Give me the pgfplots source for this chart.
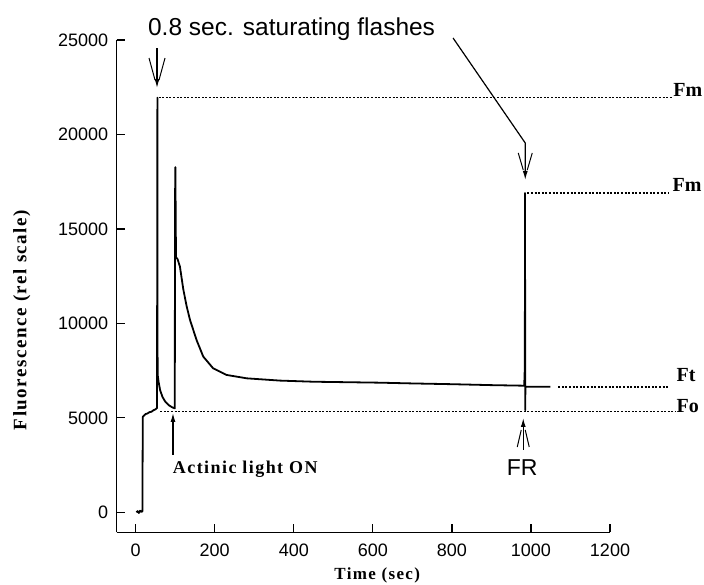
\documentclass[border=0pt]{standalone}
\usepackage{fontspec}
\setmainfont{Liberation Serif}
\newfontfamily\sansf{Liberation Sans}
\newfontfamily\labf[LetterSpace=8]{Liberation Serif}
\usepackage{pgfplots}
\pgfplotsset{compat=1.18}
\usetikzlibrary{arrows.meta}

\begin{document}
\begin{tikzpicture}
\useasboundingbox (0,0) rectangle (704pt,585pt);
\begin{axis}[
  at={(116.7pt,52.7pt)}, anchor=south west,
  width=493.3pt, height=492.3pt, scale only axis,
  xmin=-48, xmax=1200, ymin=-1060, ymax=25000,
  axis x line*=bottom, axis y line*=left,
  axis line style={line width=1.3pt},
  xtick={0,200,...,1200}, ytick={0,5000,...,25000},
  scaled y ticks=false, scaled x ticks=false,
  tick align=inside, major tick length=8pt,
  tick style={line width=1.3pt, black},
  /pgf/number format/assume math mode=true,
  /pgf/number format/1000 sep={},
  tick label style={font=\sansf\fontsize{18}{18}\selectfont},
  yticklabel style={xshift=-5pt},
  xticklabel style={yshift=-8pt},
  clip=false,
]
% fluorescence trace
\addplot[black, line width=1.8pt, line join=round] coordinates {
(2,0)(5,60)(8,-40)(11,80)(14,20)(17,50)(18,5050)(20,5100)(25,5200)(30,5230)(35,5300)(40,5320)(45,5400)(50,5450)(54,5520)
(55,21945)(55.5,7300)(58,6900)(62,6450)(68,6100)(75,5850)(85,5650)(93,5550)(99,5500)
(99.5,16500)(100.5,18270)(101,16500)(102,13500)(106,13400)(112,13000)(120.5,11800)(129,10900)(137.5,10180)(154,9120)(171,8240)(196,7620)(230,7270)(281,7090)(365,6970)(450,6910)(618,6860)(700,6820)(800,6780)(900,6730)(983,6700)(984,7400)(984.5,6700)
(985,16900)(985.5,5400)(986,6650)(1049,6640)
};
% reference levels
\addplot[black, line width=1.1pt, dash pattern=on 2pt off 1.6pt] coordinates {(58,21945)(1358,21945)};
\addplot[black, line width=1.1pt, dash pattern=on 2pt off 1.6pt] coordinates {(991,16900)(1348,16900)};
\addplot[black, line width=1.1pt, dash pattern=on 2pt off 1.6pt] coordinates {(1069,6632)(1348,6632)};
\addplot[black, line width=1.1pt, dash pattern=on 2pt off 1.6pt] coordinates {(62,5325)(1365,5325)};

% level labels
\node[anchor=east, font=\bfseries\fontsize{20}{20}\selectfont, inner sep=0pt] at (axis cs:1434,22352) {Fm};
\node[anchor=east, font=\bfseries\fontsize{20}{20}\selectfont, inner sep=0pt] at (axis cs:1432,17324) {Fm};
\node[anchor=west, font=\bfseries\fontsize{20}{20}\selectfont, inner sep=0pt] at (axis cs:1368,7267) {Ft};
\node[anchor=west, font=\bfseries\fontsize{20}{20}\selectfont, inner sep=0pt] at (axis cs:1368,5626) {Fo};

% annotations
\node[anchor=base west, font=\sansf\fontsize{24.5}{24.5}\selectfont, inner sep=0pt] at (axis cs:31,25263) {0.8 sec. saturating flashes};
\draw[line width=1.2pt, -{Latex[length=9pt,width=5pt]}] (axis cs:54,24575) -- (axis cs:54,22458);
\draw[line width=1pt] (axis cs:54,22458) ++(-8pt,30pt) -- ++(6pt,-22pt);
\draw[line width=1pt] (axis cs:54,22458) ++(8pt,30pt) -- ++(-6pt,-22pt);

\draw[line width=1.2pt, -{Latex[length=9pt,width=5pt]}] (axis cs:803,25104) -- (axis cs:985.6,19547) -- (axis cs:985.6,17589);
\draw[line width=1pt] (axis cs:985.6,17589) ++(-7pt,27pt) -- ++(5pt,-17pt);
\draw[line width=1pt] (axis cs:985.6,17589) ++(7pt,27pt) -- ++(-5pt,-17pt);

\draw[line width=1.2pt, -{Latex[length=9pt,width=5pt]}] (axis cs:94.4,3033) -- (axis cs:94.4,5256);
\node[anchor=west, font=\labf\bfseries\fontsize{18}{18}\selectfont, inner sep=0pt] at (axis cs:93.7,2292) {Actinic light ON};

\draw[line width=1.2pt, -{Latex[length=9pt,width=5pt]}] (axis cs:980.5,3298) -- (axis cs:980.5,4991);
\draw[line width=1pt] (axis cs:980.5,4991) ++(-6pt,-29pt) -- ++(4pt,17pt);
\draw[line width=1pt] (axis cs:980.5,4991) ++(6pt,-29pt) -- ++(-4pt,17pt);
\node[font=\sansf\fontsize{23}{23}\selectfont, inner sep=0pt] at (axis cs:978,2345) {FR};

% axis labels
\node[font=\labf\bfseries\fontsize{17}{17}\selectfont, inner sep=0pt] at (axis cs:611,-3319) {Time (sec)};
\node[rotate=90, font=\labf\bfseries\fontsize{19}{19}\selectfont, inner sep=0pt] at (axis cs:-288,10178) {Fluorescence (rel scale)};
\end{axis}
\end{tikzpicture}
\end{document}
